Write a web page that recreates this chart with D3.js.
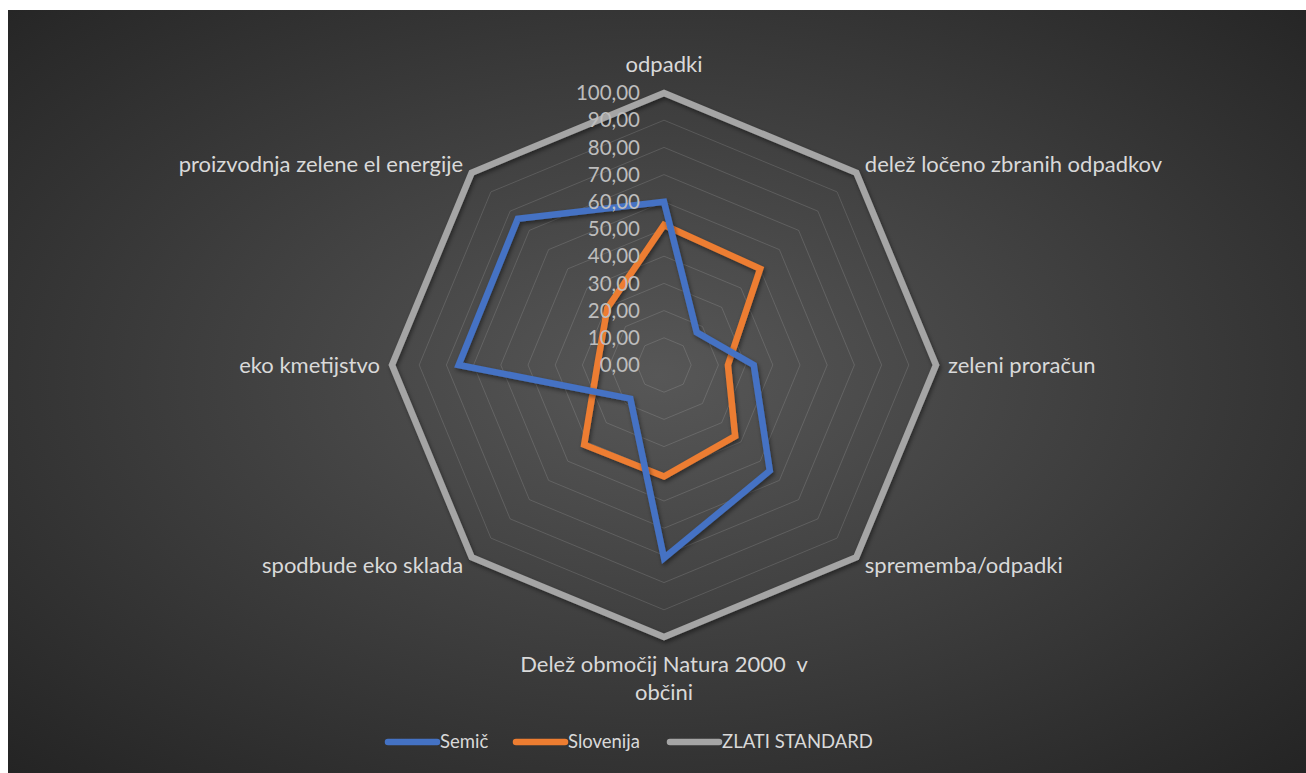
<!DOCTYPE html>
<html>
<head>
<meta charset="utf-8">
<script src="https://cdn.jsdelivr.net/npm/d3@7"></script>
<style>
  html, body { margin: 0; padding: 0; background: #ffffff; }
  svg { display: block; }
  text { font-family: Lato, "Open Sans", sans-serif; white-space: pre; }
</style>
</head>
<body>
<svg id="chart" width="1306" height="773"></svg>
<script>
// Indicators, clockwise from the top
const categories = [
  ["odpadki"],
  ["delež ločeno zbranih odpadkov"],
  ["zeleni proračun"],
  ["sprememba/odpadki"],
  ["Delež območij Natura 2000  v", "občini"],
  ["spodbude eko sklada"],
  ["eko kmetijstvo"],
  ["proizvodnja zelene el energije"]
];
const semic     = [60, 17, 33, 55, 71, 17.5, 75.5, 76];
const slovenija = [51.5, 50, 23.5, 37, 41, 41.5, 24.5, 29.5];
const zlati     = [100, 100, 100, 100, 100, 100, 100, 100];
const tickValues = [0, 10, 20, 30, 40, 50, 60, 70, 80, 90, 100];
const seriesNames = ["Semič", "Slovenija", "ZLATI STANDARD"];
const seriesColors = ["#4472C4", "#ED7D31", "#A5A5A5"];

const svg = d3.select("#chart");
const W = 1306, H = 773;
const cx = 664, cy = 365, R = 272;

const defs = svg.append("defs");
const grad = defs.append("radialGradient")
  .attr("id", "bg").attr("cx", "50%").attr("cy", "48%").attr("r", "72%");
grad.append("stop").attr("offset", "0%").attr("stop-color", "#575757");
grad.append("stop").attr("offset", "100%").attr("stop-color", "#242424");

const shadow = defs.append("filter").attr("id", "shadow")
  .attr("x", "-10%").attr("y", "-10%").attr("width", "120%").attr("height", "120%");
shadow.append("feDropShadow").attr("dx", 1.5).attr("dy", 2.5)
  .attr("stdDeviation", 2).attr("flood-color", "#000").attr("flood-opacity", 0.45);

svg.append("rect").attr("x", 8).attr("y", 10).attr("width", W - 8).attr("height", H - 10)
  .attr("fill", "url(#bg)");

const r = d3.scaleLinear().domain([0, 100]).range([0, R]);
const angle = d3.scalePoint().domain(d3.range(categories.length))
  .range([0, 2 * Math.PI * (categories.length - 1) / categories.length]);

const g = svg.append("g").attr("transform", `translate(${cx},${cy})`);

const radial = d3.lineRadial()
  .angle((d, i) => angle(i))
  .radius(d => r(d))
  .curve(d3.curveLinearClosed);

// Grid rings
g.append("g").selectAll("path")
  .data(tickValues.slice(1))
  .join("path")
  .attr("d", t => radial(categories.map(() => t)))
  .attr("fill", "none")
  .attr("stroke", "rgba(255,255,255,0.13)")
  .attr("stroke-width", 1);

// Series polygons
const series = [semic, slovenija, zlati];
g.append("g").selectAll("path")
  .data(series.map((v, i) => ({ v, i })).reverse())
  .join("path")
  .attr("d", d => radial(d.v))
  .attr("fill", "none")
  .attr("stroke", d => seriesColors[d.i])
  .attr("stroke-width", 6.5)
  .attr("stroke-linejoin", "miter")
  .attr("filter", "url(#shadow)");

// Value axis tick labels
g.append("g").selectAll("text")
  .data(tickValues)
  .join("text")
  .attr("x", -24)
  .attr("y", t => -r(t))
  .attr("dy", "0.35em")
  .attr("text-anchor", "end")
  .attr("font-size", 20.5)
  .attr("fill", "#bdbdbd")
  .text(t => d3.format(".2f")(t).replace(".", ","));

// Category labels
const labelPad = 12;
g.append("g").selectAll("text")
  .data(categories.map((c, i) => ({ c, i })))
  .join("text")
  .each(function(d) {
    const a = angle(d.i);
    const sx = Math.sin(a), sy = -Math.cos(a);
    const x = (R + labelPad) * sx;
    const y = (R + labelPad) * sy;
    let anchor = "middle";
    if (sx > 0.1) anchor = "start";
    else if (sx < -0.1) anchor = "end";
    const lineH = 28;
    let baseY;
    if (Math.abs(sy) > 0.9) {
      baseY = sy < 0 ? y - 9 - (d.c.length - 1) * lineH : y + 23;
    } else {
      baseY = y - (d.c.length - 1) * lineH / 2 + 7.5;
    }
    const t = d3.select(this)
      .attr("text-anchor", anchor)
      .attr("font-size", 22)
      .attr("fill", "#d9d9d9");
    d.c.forEach((line, k) => {
      t.append("tspan").attr("x", x).attr("y", baseY + k * lineH).text(line);
    });
  });

// Legend
const legend = svg.append("g").attr("transform", "translate(0,742)");
const legendX = [388, 516, 670];
seriesNames.forEach((name, i) => {
  legend.append("line")
    .attr("x1", legendX[i]).attr("x2", legendX[i] + 49)
    .attr("y1", 0).attr("y2", 0)
    .attr("stroke", seriesColors[i]).attr("stroke-width", 6.5)
    .attr("stroke-linecap", "round");
  legend.append("text")
    .attr("x", legendX[i] + 52).attr("y", 0).attr("dy", "0.35em")
    .attr("font-size", 18.5).attr("fill", "#d9d9d9")
    .text(name);
});
</script>
</body>
</html>
